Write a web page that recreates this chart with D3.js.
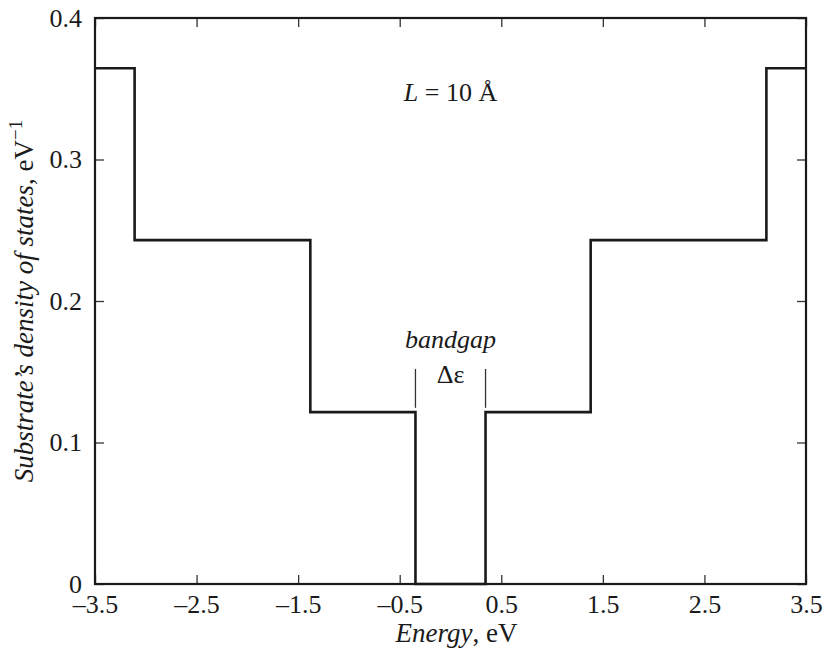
<!DOCTYPE html>
<html>
<head>
<meta charset="utf-8">
<script src="https://cdn.jsdelivr.net/npm/d3@7"></script>
<style>
  body { margin: 0; background: #fff; }
  svg text { font-family: "Liberation Serif", "DejaVu Serif", serif; fill: #1a1a1a; }
</style>
</head>
<body>
<div id="chart"></div>
<script>
// step edges (eV) and density levels (eV^-1)
var stepEdges = [-3.5, -3.11, -1.38, -0.345, 0.345, 1.38, 3.11, 3.5];
var stepLevels = [0.3645, 0.243, 0.1215, 0, 0.1215, 0.243, 0.3645];
var xTicks = [-3.5, -2.5, -1.5, -0.5, 0.5, 1.5, 2.5, 3.5];
var yTicks = [0, 0.1, 0.2, 0.3, 0.4];
var gapMarks = [-0.345, 0.345];

var margin = {top: 18, right: 18, bottom: 71, left: 95};
var W = 824, H = 655;
var width = W - margin.left - margin.right;
var height = H - margin.top - margin.bottom;
var fs = 26;

var svg = d3.select("#chart").append("svg")
    .attr("width", W).attr("height", H)
  .append("g")
    .attr("transform", "translate(" + margin.left + "," + margin.top + ")");

var x = d3.scaleLinear().domain([-3.5, 3.5]).range([0, width]);
var y = d3.scaleLinear().domain([0, 0.4]).range([height, 0]);

function fmt(d) {
    if (d === 0) return "0";
    return (d < 0 ? "\u2013" : "") + d3.format(".1f")(Math.abs(d));
}

// axes with inward ticks
var tickLen = 9;
svg.append("g").attr("transform", "translate(0," + height + ")")
    .call(d3.axisBottom(x).tickValues(xTicks).tickSizeInner(-tickLen).tickSizeOuter(0).tickPadding(11).tickFormat(fmt));
svg.append("g")
    .call(d3.axisTop(x).tickValues(xTicks).tickSizeInner(-tickLen).tickSizeOuter(0).tickFormat(""));
svg.append("g")
    .call(d3.axisLeft(y).tickValues(yTicks).tickSizeInner(-tickLen).tickSizeOuter(0).tickPadding(13).tickFormat(fmt));
svg.append("g").attr("transform", "translate(" + width + ",0)")
    .call(d3.axisRight(y).tickValues(yTicks).tickSizeInner(-tickLen).tickSizeOuter(0).tickFormat(""));

svg.selectAll(".domain").remove();
svg.selectAll(".tick line").attr("stroke", "#333").attr("stroke-width", 1.3);
svg.selectAll(".tick text").attr("font-size", fs).attr("fill", "#1a1a1a");

// frame
svg.append("rect")
    .attr("x", 0).attr("y", 0).attr("width", width).attr("height", height)
    .attr("fill", "none").attr("stroke", "#1a1a1a").attr("stroke-width", 2.2);

// step line
var pts = [];
stepLevels.forEach(function(v, i) {
    pts.push([stepEdges[i], v]);
    pts.push([stepEdges[i + 1], v]);
});
svg.append("path")
    .datum(pts)
    .attr("fill", "none")
    .attr("stroke", "#1a1a1a")
    .attr("stroke-width", 2.6)
    .attr("d", d3.line().x(function(d) { return x(d[0]); }).y(function(d) { return y(d[1]); }));

// bandgap markers
svg.selectAll(".gap")
    .data(gapMarks)
    .enter().append("line")
    .attr("x1", function(d) { return x(d); }).attr("x2", function(d) { return x(d); })
    .attr("y1", y(0.152)).attr("y2", y(0.1245))
    .attr("stroke", "#333").attr("stroke-width", 1.3);

svg.append("text")
    .attr("x", x(0)).attr("y", y(0.1668))
    .attr("text-anchor", "middle").attr("font-size", fs).attr("font-style", "italic")
    .text("bandgap");
svg.append("text")
    .attr("x", x(0)).attr("y", y(0.142))
    .attr("text-anchor", "middle").attr("font-size", fs)
    .text("\u0394\u03b5");

// L = 10 Å
var lt = svg.append("text")
    .attr("x", x(0)).attr("y", y(0.341))
    .attr("text-anchor", "middle").attr("font-size", fs);
lt.append("tspan").attr("font-style", "italic").text("L");
lt.append("tspan").text(" = 10 \u00c5");

// axis labels
var xl = svg.append("text")
    .attr("x", width / 2 + 6).attr("y", height + 58)
    .attr("text-anchor", "middle").attr("font-size", 27);
xl.append("tspan").attr("font-style", "italic").text("Energy");
xl.append("tspan").text(", eV");

var yl = svg.append("text")
    .attr("transform", "translate(" + (-62) + "," + (height / 2) + ") rotate(-90)")
    .attr("text-anchor", "middle").attr("font-size", 27);
yl.append("tspan").attr("font-style", "italic").text("Substrate\u2019s density of states");
yl.append("tspan").text(", eV");
yl.append("tspan").attr("font-size", 19).attr("dy", -11).text("\u22121");
</script>
</body>
</html>
